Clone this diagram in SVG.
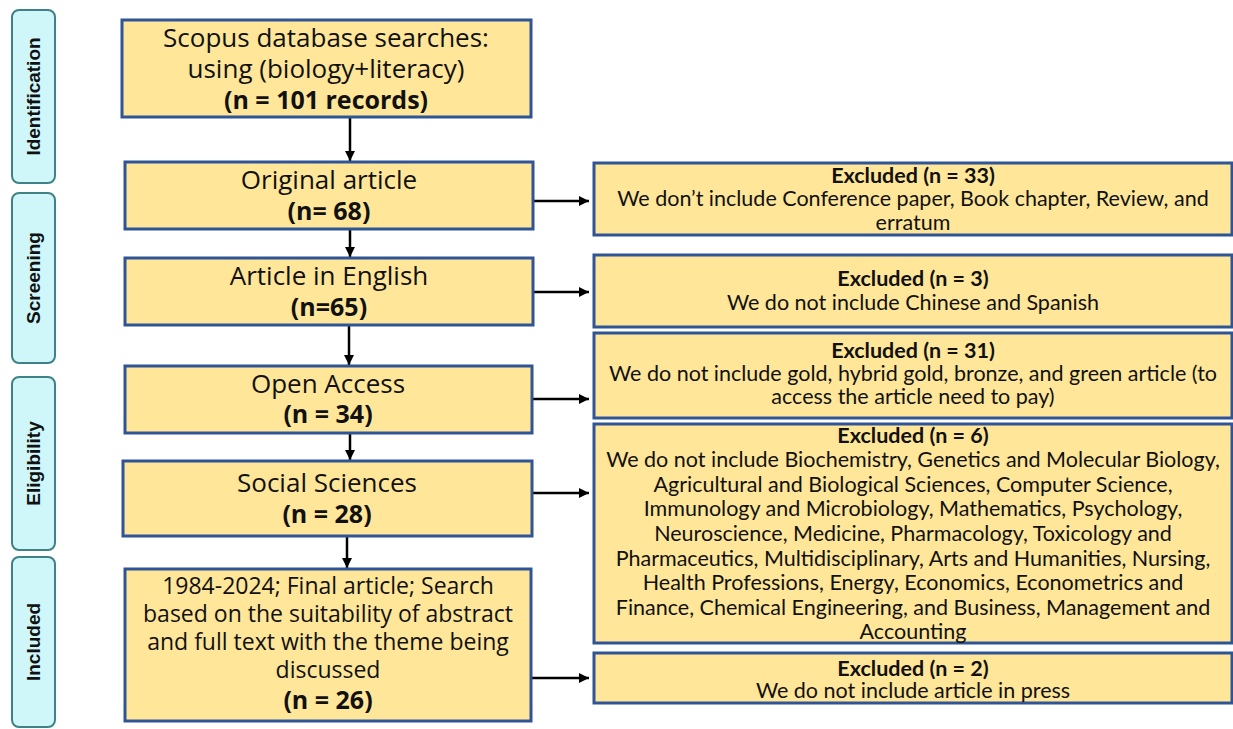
<svg xmlns="http://www.w3.org/2000/svg" width="1233" height="729" viewBox="0 0 1233 729">
<defs>
<marker id="ah" markerUnits="userSpaceOnUse" markerWidth="12" markerHeight="12" refX="10" refY="5" orient="auto">
<path d="M0,0 L10,5 L0,10 Z" fill="#000"/>
</marker>
<style>
.stage{fill:#cff7fa;stroke:#3f8286;stroke-width:2}
.stxt{font-family:"Liberation Sans",Arial,sans-serif;font-weight:bold;font-size:19px;fill:#111;text-anchor:middle}
.box{fill:#ffe699;stroke:#2f5597;stroke-width:3}
.mt{font-family:"Open Sans",sans-serif;font-size:26px;fill:#111;text-anchor:middle}
.ms{font-family:"Open Sans",sans-serif;font-size:23px;fill:#111;text-anchor:middle}
.mb{font-family:"Open Sans",sans-serif;font-size:25px;font-weight:bold;fill:#111;text-anchor:middle}
.rt{font-family:Lato,"Liberation Sans",sans-serif;font-size:21.5px;fill:#111;text-anchor:middle}
.rb{font-family:Lato,"Liberation Sans",sans-serif;font-size:21.5px;font-weight:bold;fill:#111;text-anchor:middle}
.conn{stroke:#000;stroke-width:2.5;fill:none;marker-end:url(#ah)}
</style>
</defs>
<rect width="1233" height="729" fill="#fff"/>

<g id="stage-identification"><rect class="stage" x="12" y="10" width="43" height="173" rx="7"/><text class="stxt" transform="translate(40,96.5) rotate(-90)">Identification</text></g>
<g id="stage-screening"><rect class="stage" x="12" y="193" width="43" height="170" rx="7"/><text class="stxt" transform="translate(40,278) rotate(-90)">Screening</text></g>
<g id="stage-eligibility"><rect class="stage" x="12" y="377" width="43" height="173" rx="7"/><text class="stxt" transform="translate(40,463.5) rotate(-90)">Eligibility</text></g>
<g id="stage-included"><rect class="stage" x="12" y="557" width="43" height="170" rx="7"/><text class="stxt" transform="translate(40,642) rotate(-90)">Included</text></g>

<g id="connectors">
<line class="conn" x1="350" y1="117" x2="350" y2="161"/>
<line class="conn" x1="350" y1="229" x2="350" y2="257"/>
<line class="conn" x1="349" y1="325" x2="349" y2="365"/>
<line class="conn" x1="350" y1="433" x2="350" y2="460"/>
<line class="conn" x1="347" y1="536" x2="347" y2="568"/>
<line class="conn" x1="533" y1="201" x2="589" y2="201"/>
<line class="conn" x1="533" y1="292" x2="589" y2="292"/>
<line class="conn" x1="532" y1="399" x2="589" y2="399"/>
<line class="conn" x1="532" y1="493" x2="589" y2="493"/>
<line class="conn" x1="531" y1="678" x2="589" y2="678"/>
</g>

<g id="n-scopus"><rect class="box" x="122" y="20" width="409" height="97"/>
<text class="mt" x="326" y="47">Scopus database searches:</text>
<text class="mt" x="326" y="78">using (biology+literacy)</text>
<text class="mb" x="326" y="109">(n = 101 records)</text></g>

<g id="n-original"><rect class="box" x="125" y="162" width="408" height="67"/>
<text class="mt" x="329" y="189">Original article</text>
<text class="mb" x="329" y="220">(n= 68)</text></g>

<g id="n-english"><rect class="box" x="125" y="258" width="408" height="67"/>
<text class="mt" x="329" y="285">Article in English</text>
<text class="mb" x="329" y="316">(n=65)</text></g>

<g id="n-open"><rect class="box" x="125" y="366" width="407" height="67"/>
<text class="mt" x="328" y="393">Open Access</text>
<text class="mb" x="328" y="423">(n = 34)</text></g>

<g id="n-social"><rect class="box" x="123" y="461" width="409" height="75"/>
<text class="mt" x="327" y="492">Social Sciences</text>
<text class="mb" x="327" y="523">(n = 28)</text></g>

<g id="n-final"><rect class="box" x="125" y="569" width="406" height="152"/>
<text class="ms" x="328" y="594">1984-2024; Final article; Search</text>
<text class="ms" x="328" y="622">based on the suitability of abstract</text>
<text class="ms" x="328" y="650">and full text with the theme being</text>
<text class="ms" x="328" y="678">discussed</text>
<text class="mb" x="328" y="709">(n = 26)</text></g>

<g id="x-33"><rect class="box" x="594" y="163" width="638" height="72"/>
<text class="rb" x="913" y="183">Excluded (n = 33)</text>
<text class="rt" x="913" y="206">We don’t include Conference paper, Book chapter, Review, and</text>
<text class="rt" x="913" y="230">erratum</text></g>

<g id="x-3"><rect class="box" x="594" y="255" width="638" height="72"/>
<text class="rb" x="913" y="286">Excluded (n = 3)</text>
<text class="rt" x="913" y="310">We do not include Chinese and Spanish</text></g>

<g id="x-31"><rect class="box" x="594" y="333" width="638" height="85"/>
<text class="rb" x="913" y="358">Excluded (n = 31)</text>
<text class="rt" x="913" y="381">We do not include gold, hybrid gold, bronze, and green article (to</text>
<text class="rt" x="913" y="404">access the article need to pay)</text></g>

<g id="x-6"><rect class="box" x="594" y="424" width="638" height="219"/>
<text class="rb" x="913" y="443">Excluded (n = 6)</text>
<text class="rt" x="913" y="467">We do not include Biochemistry, Genetics and Molecular Biology,</text>
<text class="rt" x="913" y="492">Agricultural and Biological Sciences, Computer Science,</text>
<text class="rt" x="913" y="516">Immunology and Microbiology, Mathematics, Psychology,</text>
<text class="rt" x="913" y="541">Neuroscience, Medicine, Pharmacology, Toxicology and</text>
<text class="rt" x="913" y="566">Pharmaceutics, Multidisciplinary, Arts and Humanities, Nursing,</text>
<text class="rt" x="913" y="590">Health Professions, Energy, Economics, Econometrics and</text>
<text class="rt" x="913" y="615">Finance, Chemical Engineering, and Business, Management and</text>
<text class="rt" x="913" y="639">Accounting</text></g>

<g id="x-2"><rect class="box" x="594" y="653" width="638" height="50"/>
<text class="rb" x="913" y="676">Excluded (n = 2)</text>
<text class="rt" x="913" y="698">We do not include article in press</text></g>
</svg>
